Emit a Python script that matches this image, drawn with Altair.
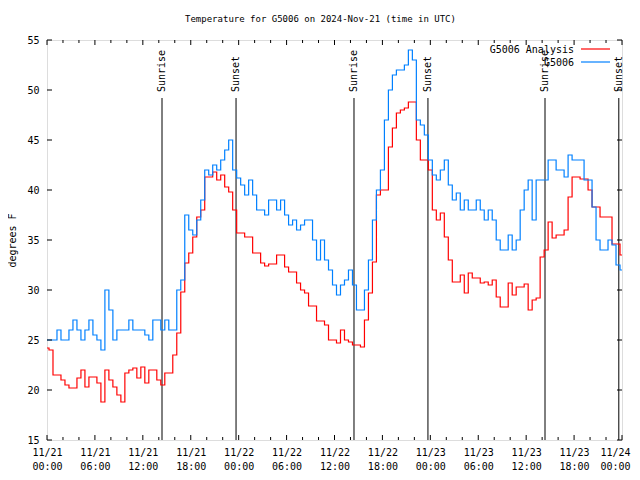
import json
import altair as alt
import pandas as pd

# ---- data ----
hours = [i * 0.5 for i in range(145)]  # 11/21 00:00 UTC .. 11/24 00:00 UTC, half-hourly

analysis = [
    24.2, 24, 21.5, 21.5, 21, 20.5, 20.2, 20.2, 21.2, 22, 20.3, 21.3,
    21.3, 20.7, 18.8, 22, 21, 20.3, 19.5, 18.8, 21.7, 22, 22.2, 21.2,
    22.3, 20.7, 22, 22, 21, 20.5, 21.7, 21.7, 23.5, 25.7, 29.8, 32.7,
    33.7, 35.3, 37.3, 38, 41.3, 41.3, 41.8, 41, 41.5, 40.3, 39.8, 38,
    35.7, 35.7, 35.3, 35.3, 33.7, 33.7, 32.7, 32.4, 32.6, 32.6, 33.5, 33.5,
    32.3, 31.8, 31.8, 30.7, 30, 29.7, 28.4, 28.4, 26.9, 26.9, 26.5, 25,
    25, 24.7, 26, 25, 24.8, 24.5, 24.5, 24.3, 27, 29.7, 32.8, 39.5,
    40, 40, 44.3, 46.2, 47.7, 48, 48.2, 48.8, 48.8, 45, 43, 43,
    42, 38, 37, 37.7, 35.3, 33, 30.8, 30.8, 31.5, 29.7, 31.7, 31.2,
    31.2, 30.7, 30.8, 30.5, 31, 29.3, 28.3, 28.3, 30.7, 29.5, 30.3, 30.3,
    30.6, 28, 29, 29.2, 33.3, 34, 36.8, 35.2, 35.5, 35.5, 36, 39.3,
    41.3, 41.3, 41.1, 41.1, 40, 38.3, 38.3, 37.3, 37.3, 37.3, 34.6, 34.6,
    33.5,
]

observed = [
    25, 25, 25, 26, 25, 25, 26, 27, 26, 25, 26, 27,
    25.5, 25, 24, 30, 28, 25, 26, 26, 26, 27, 26, 26,
    26, 25.5, 25, 27, 27, 26, 27, 26, 26, 30, 31, 37.5,
    36, 35.5, 37, 39, 42, 41.5, 42.5, 42, 43, 44, 45, 42,
    41.2, 40.5, 39.5, 41, 39.5, 38, 38, 37.5, 39, 39, 38, 39,
    37.5, 36.5, 37, 36, 36.5, 37, 37, 35, 33, 35, 33, 32,
    30.5, 29.5, 30.5, 31, 32, 30.5, 28, 28, 30, 33, 37, 40,
    42, 47, 50, 51.5, 52, 52, 52.5, 54, 53, 47, 46.5, 45.5,
    43, 41.5, 41, 42, 43, 40.5, 39, 39.7, 38, 39, 38, 38,
    39, 38, 37, 38, 37, 35, 34, 34, 35.5, 34, 35, 38,
    40, 41, 37, 41, 41, 41, 43, 43, 42, 42, 41.3, 43.5,
    43, 43, 43, 41, 41, 38.3, 35, 34, 34, 35, 34.5, 32.5,
    32,
]

series_names = ["G5006 Analysis", "G5006"]
series_colors = ["#ff0000", "#0080ff"]

sun_hours = [14.4, 23.67, 38.44, 47.7, 62.36, 71.6]
sun_labels = ["Sunrise", "Sunset", "Sunrise", "Sunset", "Sunrise", "Sunset"]

x_tick_hours = list(range(0, 73, 6))
x_tick_dates = ["11/21", "11/21", "11/21", "11/21", "11/22", "11/22", "11/22",
                "11/22", "11/23", "11/23", "11/23", "11/23", "11/24"]
x_tick_times = ["00:00", "06:00", "12:00", "18:00"] * 3 + ["00:00"]
x_minor_hours = [h for h in range(0, 73, 2) if h % 6 != 0]
y_ticks = [15, 20, 25, 30, 35, 40, 45, 50, 55]

# ---- tables ----
df = pd.concat([
    pd.DataFrame({"hour": hours, "temp": analysis, "series": series_names[0]}),
    pd.DataFrame({"hour": hours, "temp": observed, "series": series_names[1]}),
])
sun_df = pd.DataFrame({"hour": sun_hours, "label": sun_labels})
xmaj_df = pd.DataFrame({"v": x_tick_hours})
xmin_df = pd.DataFrame({"v": x_minor_hours})
ytk_df = pd.DataFrame({"v": y_ticks})
leg_df = pd.DataFrame({"series": series_names, "ty": [10, 23], "ly": [9, 22]})

W, H = 575, 400
FONT = "DejaVu Sans Mono"

xscale = alt.Scale(domain=[0, 72], nice=False, zero=False)
yscale = alt.Scale(domain=[15, 55], nice=False, zero=False)
cscale = alt.Scale(domain=series_names, range=series_colors)

label_expr = "[{d}[datum.value/6], {t}[datum.value/6]]".format(
    d=json.dumps(x_tick_dates), t=json.dumps(x_tick_times))

xaxis = alt.Axis(values=x_tick_hours, labelExpr=label_expr, title=None,
                 ticks=False, domain=False, grid=False, labelOverlap=False,
                 labelFlush=False, labelPadding=7, labelFontSize=10,
                 labelLineHeight=14, labelFont=FONT, labelColor="black",
                 labelOffset={"condition": {"test": "datum.value >= 72", "value": -7},
                              "value": 0})
yaxis = alt.Axis(values=y_ticks, title="degrees F", ticks=False, domain=False,
                 grid=False, labelPadding=8, labelFontSize=10, labelFont=FONT,
                 labelColor="black", titleFont=FONT, titleFontSize=10,
                 titleFontWeight="normal", titlePadding=9, titleColor="black")

lines = alt.Chart(df).mark_line(interpolate="step", strokeWidth=1.2).encode(
    x=alt.X("hour:Q", scale=xscale, axis=xaxis),
    y=alt.Y("temp:Q", scale=yscale, axis=yaxis),
    color=alt.Color("series:N", scale=cscale, legend=None),
    detail="series:N",
)

sun_rules = alt.Chart(sun_df).mark_rule(color="black", strokeWidth=1).encode(
    x=alt.X("hour:Q", scale=xscale),
    y=alt.datum(49.2),
    y2=alt.datum(15),
)
sun_text = alt.Chart(sun_df).mark_text(angle=270, align="left", baseline="middle",
                                       font=FONT, fontSize=10, color="black").encode(
    x=alt.X("hour:Q", scale=xscale),
    y=alt.datum(49.8),
    text="label:N",
)

def hticks(d, y0, y1):
    return alt.Chart(d).mark_rule(color="black", strokeWidth=1).encode(
        x=alt.X("v:Q", scale=xscale), y=alt.value(y0), y2=alt.value(y1))

def vticks(d, x0, x1):
    return alt.Chart(d).mark_rule(color="black", strokeWidth=1).encode(
        y=alt.Y("v:Q", scale=yscale), x=alt.value(x0), x2=alt.value(x1))

ticks = [
    hticks(xmaj_df, H, H - 5), hticks(xmaj_df, 0, 5),
    hticks(xmin_df, H, H - 3), hticks(xmin_df, 0, 3),
    vticks(ytk_df, 0, 5), vticks(ytk_df, W, W - 5),
]

leg_text = alt.Chart(leg_df).mark_text(align="right", baseline="middle", font=FONT,
                                       fontSize=10, color="black").encode(
    x=alt.value(527), y=alt.Y("ty:Q", scale=None), text="series:N")
leg_lines = alt.Chart(leg_df).mark_rule(strokeWidth=1.2).encode(
    x=alt.value(534), x2=alt.value(563), y=alt.Y("ly:Q", scale=None),
    color=alt.Color("series:N", scale=cscale, legend=None))

chart = alt.layer(sun_rules, sun_text, lines, *ticks, leg_text, leg_lines).properties(
    width=W, height=H,
    title=alt.TitleParams("Temperature for G5006 on 2024-Nov-21 (time in UTC)",
                          font=FONT, fontSize=9, fontWeight="normal", color="black",
                          anchor="middle", offset=11, dx=-14),
    autosize=alt.AutoSizeParams(type="none"),
    padding={"left": 39, "top": 32, "right": 10, "bottom": 32},
).configure_view(stroke="black", strokeWidth=1).configure(background="white")

chart.save("out.html", embed_options={"renderer": "svg", "actions": False})
